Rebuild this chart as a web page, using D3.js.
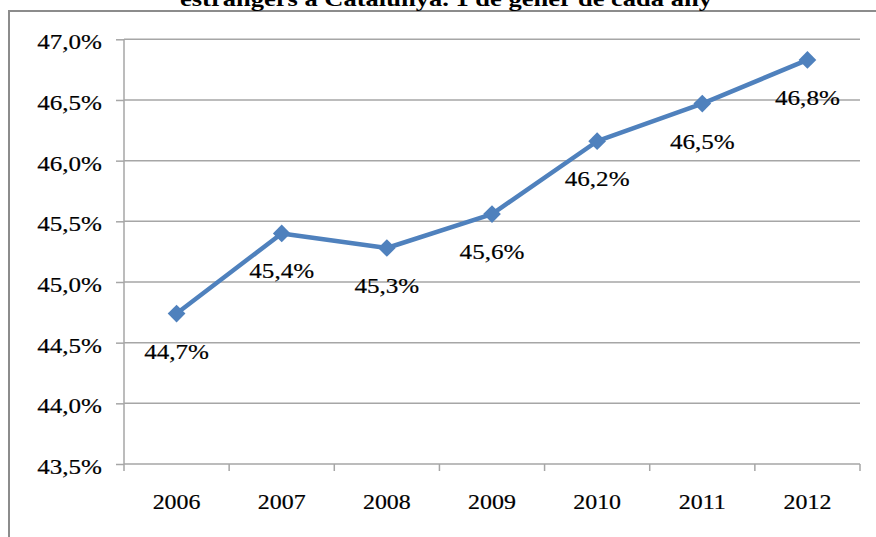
<!DOCTYPE html>
<html><head><meta charset="utf-8">
<script src="https://cdn.jsdelivr.net/npm/d3@7"></script>
<style>body{margin:0;background:#fff}svg{display:block}svg text{font-family:"Liberation Serif","Times New Roman",serif;fill:#000}</style>
</head><body><svg id="c" width="876" height="537"></svg>
<script>
const titleText = "estrangers a Catalunya. 1 de gener de cada any";
const years = ["2006","2007","2008","2009","2010","2011","2012"];
const values = [44.74, 45.40, 45.28, 45.56, 46.16, 46.47, 46.83];
const yTicks = [43.5, 44.0, 44.5, 45.0, 45.5, 46.0, 46.5, 47.0];

const FONT = "'Liberation Serif', serif";
const svg = d3.select("#c");
const m = {l:124, r:860, t:39.3, b:464};
const x = d3.scaleBand().domain(years).range([m.l, m.r]);
const y = d3.scaleLinear().domain([43.5, 47.0]).range([m.b, m.t]);
const fmt = v => d3.format(".1f")(v).replace(".", ",") + "%";
const sx = 1.14;
const heavy = sel => sel.attr("stroke","#000").attr("stroke-width",0.2);

// frame
svg.append("path").attr("d", `M9,537 V11 H876`).attr("fill","none").attr("stroke","#8c8c8c").attr("stroke-width",2);

// title (cut off at top, as in the reference)
svg.append("text").attr("x",446).attr("y",6).attr("text-anchor","middle")
  .attr("font-family",FONT).attr("font-size",22).attr("font-weight","bold")
  .attr("textLength",532).attr("lengthAdjust","spacingAndGlyphs").text(titleText);

// gridlines
svg.append("g").selectAll("line").data(yTicks.slice(1)).join("line")
  .attr("x1",m.l).attr("x2",m.r).attr("y1",d=>y(d)).attr("y2",d=>y(d))
  .attr("stroke","#a6a6a6").attr("stroke-width",1.5);

// y axis
const ya = svg.append("g").attr("transform",`translate(${m.l},0)`)
  .call(d3.axisLeft(y).tickValues(yTicks).tickSize(8).tickFormat(d=>""));
ya.selectAll("path,line").attr("stroke","#a6a6a6").attr("stroke-width",1.5);
ya.select(".domain").attr("d",`M0,${m.t}V${m.b}`);
svg.append("g").call(heavy).selectAll("text").data(yTicks).join("text")
  .attr("transform",d=>`translate(102,${y(d)+10}) scale(${sx},1)`)
  .attr("font-family",FONT).attr("text-anchor","end").attr("font-size",22).text(fmt);

// x axis
const xa = svg.append("g").attr("transform",`translate(0,${m.b})`)
  .call(d3.axisBottom(x).tickSize(0).tickFormat(""));
xa.selectAll("path,line").attr("stroke","#a6a6a6").attr("stroke-width",1.5);
xa.select(".domain").attr("d",`M${m.l},0H${m.r}`);
const bounds = years.map(d=>x(d)).concat([x(years[years.length-1])+x.bandwidth()]);
svg.append("g").selectAll("line").data(bounds).join("line")
  .attr("x1",d=>d).attr("x2",d=>d).attr("y1",m.b).attr("y2",m.b+7)
  .attr("stroke","#a6a6a6").attr("stroke-width",1.5);
svg.append("g").call(heavy).selectAll("text").data(years).join("text")
  .attr("transform",d=>`translate(${x(d)+x.bandwidth()/2},509) scale(${sx},1)`)
  .attr("font-family",FONT).attr("text-anchor","middle").attr("font-size",21).text(d=>d);

// line
const cx = d => x(d)+x.bandwidth()/2;
const data = years.map((d,i)=>({k:d,v:values[i]}));
svg.append("path").datum(data)
  .attr("d", d3.line().x(d=>cx(d.k)).y(d=>y(d.v)))
  .attr("fill","none").attr("stroke","#4f81bd").attr("stroke-width",4.5).attr("stroke-linejoin","round");
svg.append("g").selectAll("path").data(data).join("path")
  .attr("d", d3.symbol(d3.symbolDiamond2, 200))
  .attr("transform", d=>`translate(${cx(d.k)},${y(d.v)})`)
  .attr("fill","#4f81bd");

// data labels
svg.append("g").call(heavy).selectAll("text").data(data).join("text")
  .attr("transform", d=>`translate(${cx(d.k)},${y(d.v)+45}) scale(${sx},1)`)
  .attr("font-family",FONT).attr("text-anchor","middle").attr("font-size",22).text(d=>fmt(d.v));
</script></body></html>
